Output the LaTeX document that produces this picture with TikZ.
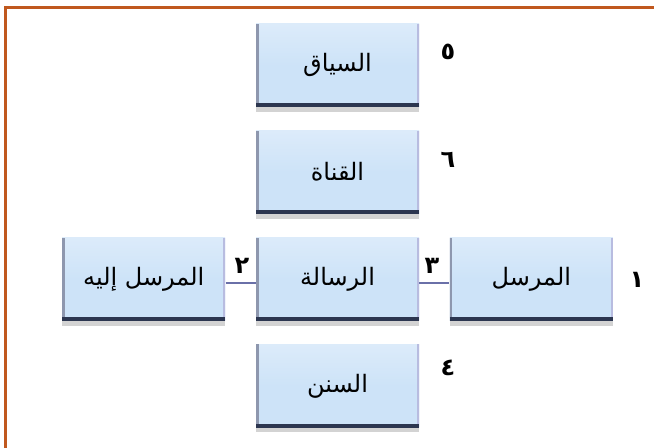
\documentclass[tikz,border=0pt]{standalone}
\usepackage{fontspec}
\newfontfamily\arabicfont[Script=Arabic]{DejaVu Sans}
\TeXXeTstate=1
\usetikzlibrary{positioning,shadows,arrows.meta}

\definecolor{framecol}{HTML}{C0581E}
\definecolor{boxfill}{HTML}{CDE3F8}
\definecolor{boxtop}{HTML}{DCEBFA}
\definecolor{boxedge}{HTML}{2C3650}
\definecolor{boxside}{HTML}{8E97AE}
\definecolor{boxright}{HTML}{B8BCE0}
\definecolor{linkcol}{HTML}{6A70A8}

\tikzset{
  stage/.style={rectangle, minimum width=81.5pt, minimum height=41.5pt,
    top color=boxtop, bottom color=boxfill, middle color=boxfill,
    font=\arabicfont\fontsize{12}{14}\selectfont,
    drop shadow={shadow xshift=0pt, shadow yshift=-2.5pt, opacity=.35, fill=gray},
    path picture={
      \draw[boxside, line width=2.5pt] (path picture bounding box.south west) -- (path picture bounding box.north west);
      \draw[boxright, line width=2pt] (path picture bounding box.south east) -- (path picture bounding box.north east);
      \draw[boxedge, line width=3.5pt] (path picture bounding box.south west) -- (path picture bounding box.south east);
    }},
  num/.style={font=\arabicfont\bfseries\fontsize{12}{14}\selectfont, inner sep=0pt},
  link/.style={draw=linkcol, line width=.8pt}
}

\begin{document}
\begin{tikzpicture}[x=0.5pt, y=-0.5pt, node distance=11.5pt and 15pt]
    \useasboundingbox (0,0) rectangle (654,447);
    \draw[framecol, line width=1.3pt] (5.5,460) -- (5.5,7.5) -- (660,7.5);

    % middle row
    \node[stage] (msg) at (337.5,279) {\beginR الرسالة\endR};
    \node[stage] (sender) [right=of msg] {\beginR المرسل\endR};
    \node[stage] (receiver) [left=of msg] {\beginR المرسل إليه\endR};
    % column
    \node[stage] (channel) [above=of msg] {\beginR القناة\endR};
    \node[stage] (context) [above=of channel] {\beginR السياق\endR};
    \node[stage] (code) [below=of msg] {\beginR السنن\endR};

    \path[link] ([yshift=-2pt]receiver.east) edge ([yshift=-2pt]msg.west)
                ([yshift=-2pt]msg.east) edge ([yshift=-2pt]sender.west);

    % numbers
    \node[num] (n1) at (637,280) {\beginR ١\endR};
    \node[num] (n2) at (242,266) {\beginR ٢\endR};
    \node[num] (n3) at (432,266) {\beginR ٣\endR};
    \node[num] (n4) at (448,368) {\beginR ٤\endR};
    \node[num] (n5) at (448,52) {\beginR ٥\endR};
    \node[num] (n6) at (448,160) {\beginR ٦\endR};
\end{tikzpicture}
\end{document}
